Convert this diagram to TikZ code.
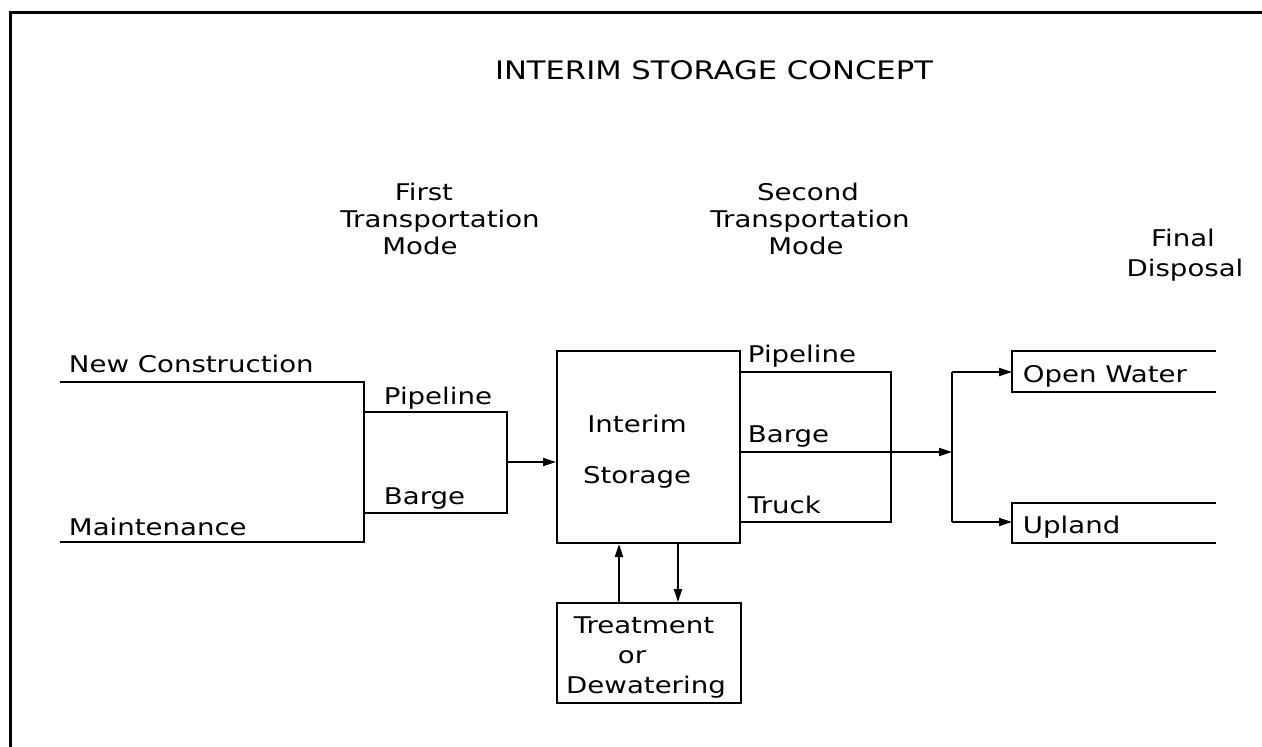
\documentclass[tikz,border=0pt]{standalone}
\usepackage{fontspec}
\setmainfont{DejaVu Sans}[FakeStretch=1.2]
\newfontfamily\titlefont{DejaVu Sans}[FakeStretch=1.2]
\usetikzlibrary{arrows.meta}
\begin{document}
\begin{tikzpicture}[x=1pt,y=-1pt,line width=1.9pt,
  lbl/.style={inner sep=0pt,anchor=base west,font=\fontsize{23}{27}\selectfont},
  hdr/.style={inner sep=0pt,anchor=base,font=\fontsize{23}{27}\selectfont},
  flow/.style={-{Triangle[length=13pt,width=8pt]}},
  box/.style={draw,line width=2pt,inner sep=0pt}]
\useasboundingbox (0,0) rectangle (1262,747);
% frame
\coordinate (fr1) at (1262,12);
\coordinate (fr2) at (10,12);
\coordinate (fr3) at (10,747);
\draw[line width=3pt] (fr1) -- (fr2) -- (fr3);
% title
\node[inner sep=0pt,anchor=base,font=\titlefont\fontsize{25.5}{30}\selectfont] (title) at (714,79) {INTERIM STORAGE CONCEPT};
% headers
\node[hdr] (h1a) at (424,200) {First};
\node[hdr] (h1b) at (440,227) {Transportation};
\node[hdr] (h1c) at (420,254) {Mode};
\node[hdr] (h2a) at (808,200) {Second};
\node[hdr] (h2b) at (810,227) {Transportation};
\node[hdr] (h2c) at (806,254) {Mode};
\node[hdr] (h3a) at (1183,246) {Final};
\node[hdr] (h3b) at (1185,276) {Disposal};
% sources
\node[lbl] (newc) at (68,372) {New Construction};
\node[lbl] (maint) at (68,535) {Maintenance};
\coordinate (s1) at (60,382);
\coordinate (s2) at (364,382);
\coordinate (s3) at (364,542);
\coordinate (s4) at (60,542);
\draw (s1) -- (s2) -- (s3) -- (s4);
% first transportation mode
\node[lbl] (pipe1) at (383,404) {Pipeline};
\node[lbl] (barge1) at (383,504) {Barge};
\coordinate (p1a) at (364,412);
\coordinate (p1b) at (507,412);
\coordinate (p1c) at (507,513);
\coordinate (p1d) at (364,513);
\draw (p1a) -- (p1b) -- (p1c) -- (p1d);
\coordinate (p1m) at (507,462);
% interim storage
\node[box,minimum width=183pt,minimum height=192pt] (store) at (648.5,447) {};
\node[hdr] (storet1) at (637,432) {Interim};
\node[hdr] (storet2) at (637,483) {Storage};
\draw[flow] (p1m) -- (p1m -| store.west);
% treatment
\node[box,minimum width=184pt,minimum height=100pt] (treat) at (649,653) {};
\node[hdr] (tr1) at (644,633) {Treatment};
\node[hdr] (tr2) at (632,663) {or};
\node[hdr] (tr3) at (646,693) {Dewatering};
\coordinate (ux) at (619,600);
\coordinate (dx) at (678,600);
\draw[flow] (ux |- treat.north) -- (ux |- store.south);
\draw[flow] (dx |- store.south) -- (dx |- treat.north);
% second transportation mode
\node[lbl] (pipe2) at (747,362) {Pipeline};
\node[lbl] (barge2) at (747,442) {Barge};
\node[lbl] (truck2) at (747,513) {Truck};
\coordinate (p2a) at (740,372);
\coordinate (p2b) at (891,372);
\coordinate (p2c) at (891,522);
\coordinate (p2d) at (740,522);
\draw (p2a) -- (p2b) -- (p2c) -- (p2d);
\coordinate (jm) at (952,452);
\coordinate (jt) at (952,372);
\coordinate (jb) at (952,522);
\draw[flow] (jm -| store.east) -- (jm);
\draw (jt) -- (jb);
% final disposal
\coordinate (ow1) at (1216,351);
\coordinate (ow2) at (1012,351);
\coordinate (ow3) at (1012,392);
\coordinate (ow4) at (1216,392);
\draw[line width=2pt] (ow1) -- (ow2) -- (ow3) -- (ow4);
\node[lbl] (open) at (1022,382) {Open Water};
\coordinate (up1) at (1216,503);
\coordinate (up2) at (1012,503);
\coordinate (up3) at (1012,543);
\coordinate (up4) at (1216,543);
\draw[line width=2pt] (up1) -- (up2) -- (up3) -- (up4);
\node[lbl] (upland) at (1022,533) {Upland};
\draw[flow] (jt) -- (jt -| ow2);
\draw[flow] (jb) -- (jb -| up2);
\end{tikzpicture}
\end{document}
